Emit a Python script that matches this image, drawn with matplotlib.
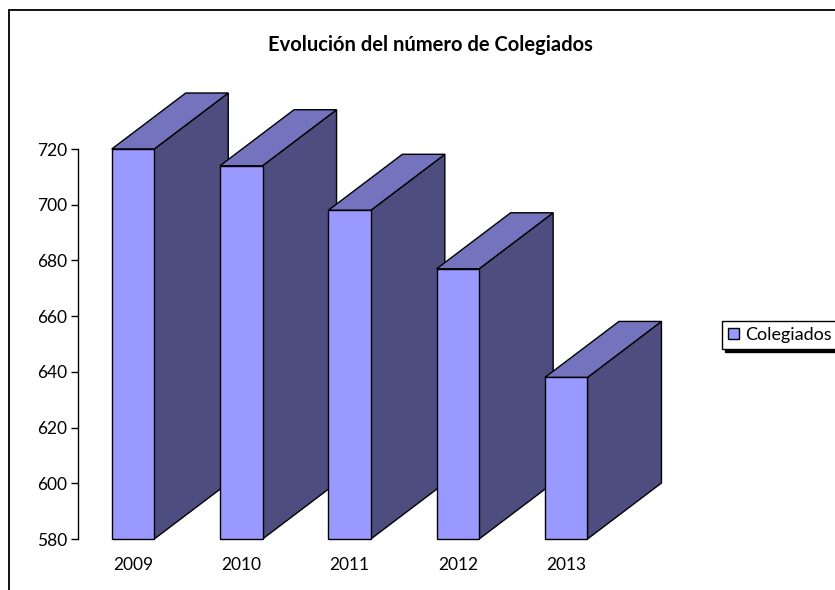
import matplotlib
matplotlib.use("Agg")
import matplotlib.pyplot as plt
from matplotlib.patches import Polygon, Rectangle, Patch
import numpy as np

categories = ["2009", "2010", "2011", "2012", "2013"]
values = [720, 714, 698, 677, 638]
yticks = [580, 600, 620, 640, 660, 680, 700, 720]
series_name = "Colegiados"
title = "Evolución del número de Colegiados"

FRONT = "#9999FF"
TOP = "#7373BE"
SIDE = "#4D4D80"

W, H = 835, 590
fig = plt.figure(figsize=(W / 100, H / 100), dpi=100)
plt.rcParams['font.family'] = ['Lato', 'DejaVu Sans']

# axes placement (pixels)
px_per_unit = 390 / 140.0
ax_left_px, ax_right_px = 78, 700
ax_bottom_px, ax_top_px = 539, 80
ax = fig.add_axes([ax_left_px / W, (H - ax_bottom_px) / H,
                   (ax_right_px - ax_left_px) / W, (ax_bottom_px - ax_top_px) / H])
cat_spacing = 108.3
x0_px = 133
ax.set_xlim(-(x0_px - ax_left_px) / cat_spacing, (ax_right_px - x0_px) / cat_spacing)
ax.set_ylim(580, 580 + (ax_bottom_px - ax_top_px) / px_per_unit)

base = 580
bw = 42.5 / cat_spacing
dx = 74 / cat_spacing
dy = 56 / px_per_unit
x = np.arange(len(categories))

for i, (xi, v) in enumerate(zip(x, values)):
    z = 2 + i * 3
    l, r = xi - bw / 2, xi + bw / 2
    side = Polygon([(r, base), (r + dx, base + dy), (r + dx, v + dy), (r, v)],
                   closed=True, facecolor=SIDE, edgecolor="black", linewidth=1.0,
                   zorder=z, clip_on=False)
    top = Polygon([(l, v), (r, v), (r + dx, v + dy), (l + dx, v + dy)],
                  closed=True, facecolor=TOP, edgecolor="black", linewidth=1.0,
                  zorder=z + 1, clip_on=False)
    ax.add_patch(side)
    ax.add_patch(top)
    ax.bar([xi], [v - base], bottom=base, width=bw, color=FRONT, edgecolor="black",
           linewidth=1.0, zorder=z + 2, clip_on=False)

ax.set_yticks(yticks)
ax.set_yticklabels([str(t) for t in yticks], fontsize=12.5)
ax.set_xticks(x)
ax.set_xticklabels(categories, fontsize=12.5)
ax.tick_params(axis='x', length=0, pad=13)
ax.tick_params(axis='y', length=5, width=1, direction='out', pad=3)
for s in ["top", "right", "bottom"]:
    ax.spines[s].set_visible(False)
ax.spines["left"].set_bounds(580, 720)
ax.spines["left"].set_linewidth(1.0)
ax.patch.set_visible(False)

fig.text(430 / W, 1 - 45 / H, title, ha="center", va="center",
         fontsize=14.5, fontweight="bold")

# outer frame
frame = Rectangle((9 / W, -0.1), 1.2, 1.1 - 10 / H + 0.0, transform=fig.transFigure,
                  fill=False, edgecolor="black", linewidth=1.3)
fig.patches.append(frame)

handle = Patch(facecolor=FRONT, edgecolor="black", linewidth=1.0)
leg = fig.legend([handle], [series_name], loc="center left",
                 bbox_to_anchor=(722 / W, 1 - 335 / H), fontsize=13,
                 frameon=True, fancybox=False, handlelength=0.6, handleheight=0.6,
                 handletextpad=0.35, borderpad=0.35, borderaxespad=0,
                 shadow={'color': 'black', 'alpha': 1.0})
leg.get_frame().set_edgecolor("black")
leg.get_frame().set_linewidth(1.0)

fig.savefig("out.png", dpi=100)
